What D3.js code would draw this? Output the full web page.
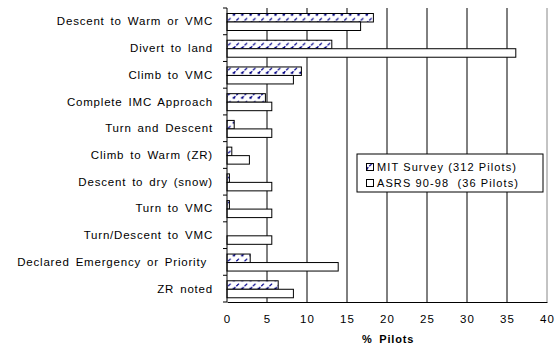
<!DOCTYPE html>
<html>
<head>
<meta charset="utf-8">
<script src="https://cdn.jsdelivr.net/npm/d3@7"></script>
<style>
  body { margin: 0; background: #fff; }
  text { font-family: "Liberation Sans", Arial, sans-serif; white-space: pre; }
</style>
</head>
<body>
<svg id="chart" width="557" height="346"></svg>
<script>
// categories top to bottom
const categories = [
  "Descent to Warm or VMC", "Divert to land", "Climb to VMC", "Complete IMC Approach",
  "Turn and Descent", "Climb to Warm (ZR)", "Descent to dry (snow)", "Turn to VMC",
  "Turn/Descent to VMC", "Declared Emergency or Priority ", "ZR noted"
]
const mitSurvey = [18.3, 13.1, 9.3, 4.8, 0.9, 0.6, 0.3, 0.3, 0, 2.9, 6.4]
const asrs = [16.7, 36.1, 8.3, 5.6, 5.6, 2.8, 5.6, 5.6, 5.6, 13.9, 8.3]
const xTicks = [0, 5, 10, 15, 20, 25, 30, 35, 40]
const seriesNames = ["MIT Survey (312 Pilots)", "ASRS 90-98  (36 Pilots)"]

const margin = { left: 227, right: 10, top: 8, bottom: 44 }
const width = 557, height = 346

const svg = d3.select("#chart")

// navy slash hatch
const defs = svg.append("defs")
const pat = defs.append("pattern")
  .attr("id", "hatch")
  .attr("patternUnits", "userSpaceOnUse")
  .attr("width", 8.3).attr("height", 8.3)
pat.append("rect").attr("width", 8.3).attr("height", 8.3).attr("fill", "#fff")
pat.append("line")
  .attr("x1", 1).attr("y1", 7).attr("x2", 6.5).attr("y2", 1.5)
  .attr("stroke", "#00008b").attr("stroke-width", 1.3)
  .attr("stroke-dasharray", "3,1.2,4")
pat.append("rect").attr("x", 0.5).attr("y", 5.5).attr("width", 2).attr("height", 2).attr("fill", "#000080")

const x = d3.scaleLinear().domain([0, 40]).range([margin.left, 547])
const y = d3.scaleBand().domain(categories).range([margin.top, 302])

// gridlines
svg.append("g")
  .selectAll("line")
  .data(xTicks.slice(1))
  .enter().append("line")
  .attr("x1", d => x(d)).attr("x2", d => x(d))
  .attr("y1", margin.top).attr("y2", 302)
  .attr("stroke", d => d === 40 ? "#888" : "#000")
  .attr("stroke-width", 1)

const bh = 8.5
const rows = categories.map((c, i) => ({ c, mit: mitSurvey[i], asrs: asrs[i] }))

// MIT bars
svg.append("g").selectAll("rect")
  .data(rows).enter().append("rect")
  .attr("x", x(0))
  .attr("y", d => y(d.c) + 5.5)
  .attr("width", d => x(d.mit) - x(0))
  .attr("height", bh)
  .attr("fill", "url(#hatch)")
  .attr("stroke", d => d.mit > 0 ? "#000" : "none")
  .attr("stroke-width", 1)

// ASRS bars
svg.append("g").selectAll("rect")
  .data(rows).enter().append("rect")
  .attr("x", x(0))
  .attr("y", d => y(d.c) + 5.5 + bh)
  .attr("width", d => x(d.asrs) - x(0))
  .attr("height", bh)
  .attr("fill", "#fff")
  .attr("stroke", "#000")
  .attr("stroke-width", 1)

// left axis with ticks at band edges
const yAxisG = svg.append("g")
yAxisG.append("line")
  .attr("x1", x(0)).attr("x2", x(0)).attr("y1", margin.top).attr("y2", 302)
  .attr("stroke", "#000")
yAxisG.selectAll("line.tk")
  .data(d3.range(categories.length + 1))
  .enter().append("line").attr("class", "tk")
  .attr("x1", x(0) - 4).attr("x2", x(0))
  .attr("y1", i => margin.top + i * y.step())
  .attr("y2", i => margin.top + i * y.step())
  .attr("stroke", "#000")
yAxisG.selectAll("text")
  .data(categories).enter().append("text")
  .attr("x", 213)
  .attr("y", d => y(d) + y.bandwidth() / 2 + 4)
  .attr("text-anchor", "end")
  .attr("font-size", 11.5)
  .attr("letter-spacing", 0.8)
  .attr("word-spacing", 2)
  .text(d => d)

// bottom axis
const xAxis = svg.append("g")
  .attr("transform", `translate(0,302)`)
  .call(d3.axisBottom(x).tickValues(xTicks).tickSize(0).tickPadding(13))
xAxis.select(".domain").attr("stroke", "#000")
xAxis.selectAll("text")
  .attr("font-size", 11.5)
  .attr("letter-spacing", 1.2)
  .attr("fill", "#000")
  .attr("font-family", "Liberation Sans, Arial, sans-serif")

svg.append("text")
  .attr("x", 388).attr("y", 343)
  .attr("text-anchor", "middle")
  .attr("font-size", 11)
  .attr("font-weight", "bold")
  .attr("letter-spacing", 0.8)
  .attr("word-spacing", 3)
  .text("% Pilots")

// legend
const lg = svg.append("g").attr("transform", "translate(357,154)")
lg.append("rect")
  .attr("width", 186).attr("height", 38)
  .attr("fill", "#fff").attr("stroke", "#000")
const fills = ["url(#hatch)", "#fff"]
seriesNames.forEach((n, i) => {
  lg.append("rect")
    .attr("x", 9.5).attr("y", 9.5 + i * 16)
    .attr("width", 7).attr("height", 7)
    .attr("fill", fills[i]).attr("stroke", "#000")
  lg.append("text")
    .attr("x", 20).attr("y", 17 + i * 16)
    .attr("font-size", 11)
    .attr("letter-spacing", 1.1)
    .text(n)
})
</script>
</body>
</html>
